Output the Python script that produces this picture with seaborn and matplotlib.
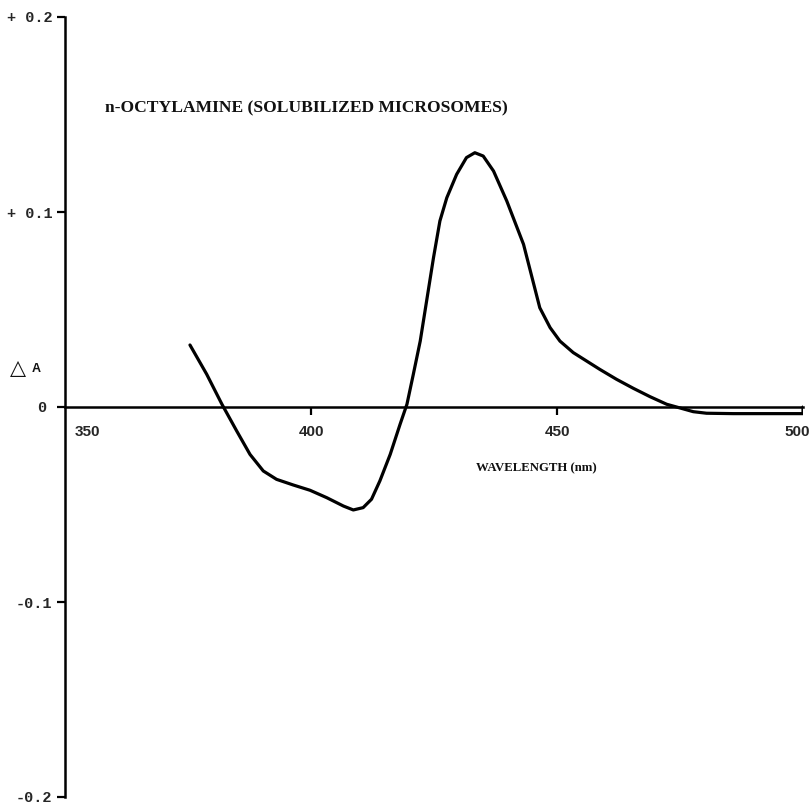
import numpy as np
import pandas as pd
import matplotlib
matplotlib.use("Agg")
import matplotlib.pyplot as plt
import matplotlib.transforms as mtransforms
import seaborn as sns

# Difference spectrum: n-octylamine bound to solubilized microsomes
wavelength = [375.4, 378.8, 381.9, 384.9, 387.6, 390.3, 393.0, 396.4, 399.8, 403.2,
              406.6, 408.6, 410.6, 412.3, 414.0, 416.1, 418.1, 419.5, 420.8, 422.2,
              423.5, 424.9, 426.2, 427.6, 429.6, 431.6, 433.3, 435.0, 437.1, 439.8,
              443.2, 446.5, 448.6, 450.6, 453.3, 456.0, 458.7, 462.1, 465.5,
              468.9, 472.3, 474.3, 477.7, 480.4, 485.8, 500.0, 500.0]
delta_a = [0.0318, 0.0168, 0.0014, -0.0123, -0.0243, -0.0328, -0.0371, -0.0400, -0.0427, -0.0465,
           -0.0508, -0.0528, -0.0516, -0.0473, -0.0379, -0.0243, -0.0089, 0.0014, 0.0168, 0.0338,
           0.0544, 0.0766, 0.0954, 0.1073, 0.1193, 0.1279, 0.1304, 0.1287, 0.1210, 0.1056,
           0.0834, 0.0509, 0.0407, 0.0338, 0.0279, 0.0236, 0.0193, 0.0142, 0.0096,
           0.0053, 0.0014, 0.0000, -0.0024, -0.0032, -0.0034, -0.0034, 0.0000]

x_ticks = [350, 400, 450, 500]
x_tick_labels = ["350", "400", "450", "500"]
y_ticks = [-0.2, -0.1, 0.0, 0.1, 0.2]
y_tick_labels = ["-0.2", "-0.1", "0", "+ 0.1", "+ 0.2"]

title_text = "n-OCTYLAMINE (SOLUBILIZED MICROSOMES)"
x_label_text = "WAVELENGTH (nm)"

sns.set_theme(style="white")
plt.rcParams["font.family"] = ["DejaVu Sans"]

spectrum = pd.DataFrame({"wavelength": wavelength, "delta_a": delta_a})

fig = plt.figure(figsize=(8.12, 8.08), dpi=100)
fig.patch.set_facecolor("white")
ax = fig.add_axes([65 / 812, 11 / 808, (803 - 65) / 812, (797 - 17) / 808])
ax.set_facecolor("white")

sns.lineplot(data=spectrum, x="wavelength", y="delta_a", sort=False,
             color="black", linewidth=2.3, ax=ax, estimator=None)
for line in ax.lines:
    line.set_solid_joinstyle("round")
    line.set_solid_capstyle("round")

ax.set_xlim(350, 500)
ax.set_ylim(-0.2, 0.2)

# Axis lines: vertical axis on the left, horizontal axis through zero
for side in ("top", "right"):
    ax.spines[side].set_visible(False)
ax.spines["left"].set_linewidth(1.8)
ax.spines["bottom"].set_position(("data", 0))
ax.spines["bottom"].set_linewidth(1.8)
ax.spines["left"].set_color("black")
ax.spines["bottom"].set_color("black")

ax.set_xticks(x_ticks)
ax.set_xticklabels(x_tick_labels, fontsize=11, fontweight="bold",
                   family=["Liberation Sans"])
ax.set_yticks(y_ticks)
ax.set_yticklabels(y_tick_labels, fontsize=11, fontweight="bold",
                   family=["Liberation Mono"])
ax.tick_params(axis="x", direction="out", length=6, width=1.6, color="black",
               pad=7, bottom=True)
ax.tick_params(axis="y", direction="out", length=6, width=1.6, color="black",
               pad=3, left=True)

# end labels of the wavelength scale sit beside the axis ends, without marks
xticks = ax.xaxis.get_major_ticks()
xticks[0].tick1line.set_visible(False)
xticks[-1].tick1line.set_visible(False)
labels = ax.get_xticklabels()
labels[0].set_transform(labels[0].get_transform() +
                        mtransforms.ScaledTranslation(22 / 100, 0, fig.dpi_scale_trans))
labels[-1].set_transform(labels[-1].get_transform() +
                         mtransforms.ScaledTranslation(-6 / 100, 0, fig.dpi_scale_trans))
ylabels = ax.get_yticklabels()
ylabels[2].set_transform(ylabels[2].get_transform() +
                         mtransforms.ScaledTranslation(-6 / 100, 0, fig.dpi_scale_trans))

ax.set_xlabel("")
ax.set_ylabel("")

ax.text(358.1, 0.153, title_text, ha="left", va="center", fontsize=12.6,
        fontweight="bold", family=["Liberation Serif"], color="#111111")
ax.text(433.5, -0.0313, x_label_text, ha="left", va="center", fontsize=9.2,
        fontweight="bold", family=["Liberation Serif"], color="#111111")
# y-axis symbol: open triangle followed by a small capital A
fig.text(10 / 812, 1 - 368 / 808, "\u25b3", ha="left", va="center",
         fontsize=15, family=["DejaVu Sans"], color="#111111")
fig.text(32 / 812, 1 - 369 / 808, "A", ha="left", va="center",
         fontsize=9, fontweight="bold", family=["Liberation Sans"], color="#111111")

fig.savefig("out.png", dpi=100, facecolor="white")
